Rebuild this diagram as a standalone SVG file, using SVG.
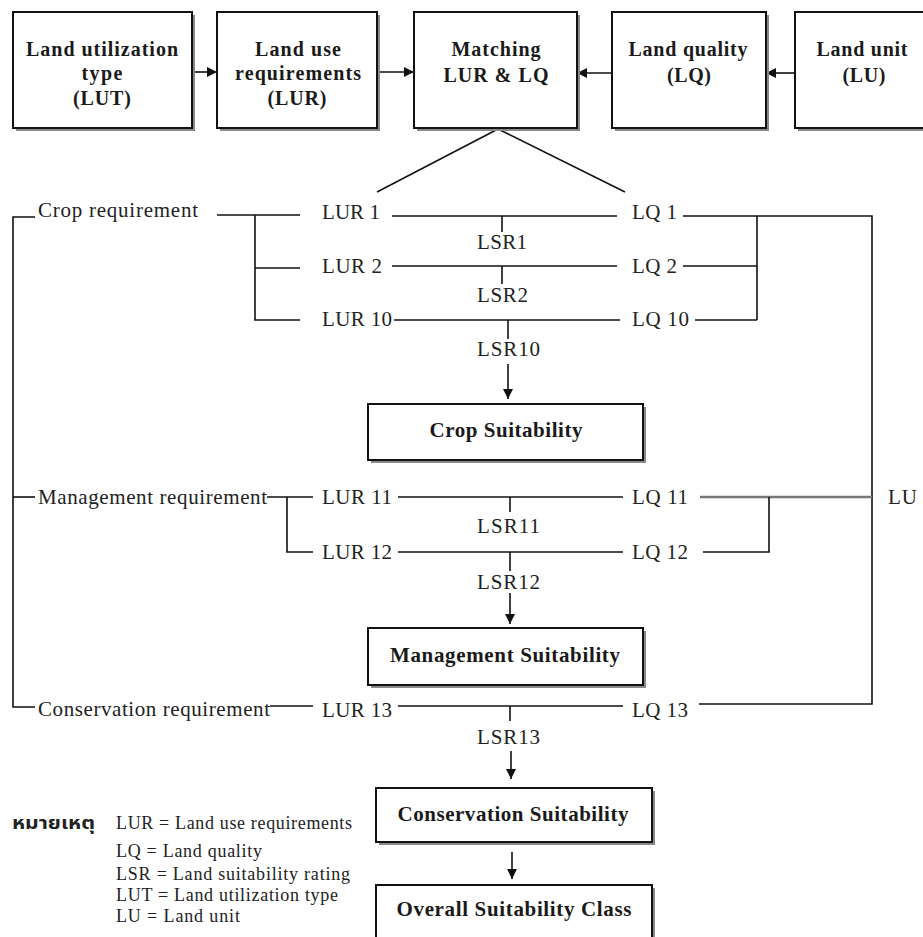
<svg xmlns="http://www.w3.org/2000/svg" width="923" height="937" viewBox="0 0 923 937">
<style>
.bg{fill:#ffffff}
.box{fill:#ffffff;stroke:#111;stroke-width:2}
.shadow{fill:#8a8a8a}
.ln{stroke:#111;stroke-width:1.6;fill:none}
.gl{stroke:#777;stroke-width:2.6;fill:none}
.bt{font-family:"Liberation Serif","Times New Roman",serif;font-weight:bold;font-size:20px;fill:#1a1a1a;text-anchor:middle}
.bt2{font-family:"Liberation Serif","Times New Roman",serif;font-weight:bold;font-size:21px;fill:#1a1a1a;text-anchor:middle}
.rt{font-family:"Liberation Serif","Times New Roman",serif;font-size:21px;fill:#222}
.lg{font-family:"Liberation Serif","Times New Roman",serif;font-size:18px;fill:#222}
.th{font-family:"Liberation Serif","Noto Sans Thai","Noto Serif Thai","DejaVu Sans",sans-serif;font-weight:bold;font-size:18px;fill:#222}
</style>
<defs>
<marker id="ah" viewBox="0 0 10 10" refX="10" refY="5" markerWidth="10" markerHeight="10" markerUnits="userSpaceOnUse" orient="auto">
<path d="M0,0 L10,5 L0,10 z" fill="#111"/>
</marker>
</defs>
<rect class="bg" x="0" y="0" width="923" height="937"/>

<g id="connectors">
<line class="ln" x1="192" y1="72" x2="217" y2="72" marker-end="url(#ah)"/>
<line class="ln" x1="377" y1="72" x2="414" y2="72" marker-end="url(#ah)"/>
<line class="ln" x1="612" y1="73" x2="577" y2="73" marker-end="url(#ah)"/>
<line class="ln" x1="795" y1="73" x2="766" y2="73" marker-end="url(#ah)"/>
<line class="ln" x1="498" y1="129" x2="377" y2="192"/>
<line class="ln" x1="498" y1="129" x2="625" y2="192"/>
<polyline class="ln" points="35,217 13,217 13,707 35,707"/>
<line class="ln" x1="13" y1="497" x2="35" y2="497"/>
<line class="ln" x1="217" y1="215" x2="300" y2="215"/>
<polyline class="ln" points="255,215 255,320 300,320"/>
<line class="ln" x1="255" y1="268" x2="300" y2="268"/>
<line class="ln" x1="392" y1="216" x2="617" y2="216"/>
<line class="ln" x1="392" y1="266" x2="617" y2="266"/>
<line class="ln" x1="394" y1="320" x2="620" y2="320"/>
<line class="ln" x1="502" y1="216" x2="502" y2="232"/>
<line class="ln" x1="502" y1="266" x2="502" y2="284"/>
<line class="ln" x1="508" y1="320" x2="508" y2="339"/>
<polyline class="ln" points="683,216 872,216 872,704 699,704"/>
<line class="ln" x1="757" y1="216" x2="757" y2="320"/>
<line class="ln" x1="683" y1="266" x2="757" y2="266"/>
<line class="ln" x1="695" y1="320" x2="757" y2="320"/>
<line class="ln" x1="508" y1="364" x2="508" y2="399" marker-end="url(#ah)"/>
<line class="ln" x1="267" y1="497" x2="313" y2="497"/>
<polyline class="ln" points="287,497 287,552 313,552"/>
<line class="ln" x1="398" y1="497" x2="623" y2="497"/>
<line class="ln" x1="398" y1="552" x2="623" y2="552"/>
<line class="ln" x1="510" y1="497" x2="510" y2="512"/>
<line class="ln" x1="510" y1="552" x2="510" y2="571"/>
<line class="gl" x1="700" y1="497" x2="872" y2="497"/>
<polyline class="ln" points="769,497 769,552 703,552"/>
<line class="ln" x1="510" y1="593" x2="510" y2="624" marker-end="url(#ah)"/>
<line class="ln" x1="270" y1="706" x2="313" y2="706"/>
<line class="ln" x1="398" y1="706" x2="623" y2="706"/>
<line class="ln" x1="510" y1="706" x2="510" y2="721"/>
<line class="ln" x1="511" y1="751" x2="511" y2="779" marker-end="url(#ah)"/>
<line class="ln" x1="512" y1="852" x2="512" y2="879" marker-end="url(#ah)"/>
</g>

<g id="lut">
<rect class="shadow" x="16" y="15" width="179" height="116"/>
<rect class="box" x="13" y="12" width="179" height="116"/>
<text class="bt" x="102" y="56" textLength="152" lengthAdjust="spacing">Land utilization</text>
<text class="bt" x="102" y="80" textLength="41" lengthAdjust="spacing">type</text>
<text class="bt" x="102" y="105" textLength="58" lengthAdjust="spacing">(LUT)</text>
</g>
<g id="lur">
<rect class="shadow" x="220" y="15" width="160" height="116"/>
<rect class="box" x="217" y="12" width="160" height="116"/>
<text class="bt" x="298" y="56" textLength="86" lengthAdjust="spacing">Land use</text>
<text class="bt" x="298" y="80" textLength="126" lengthAdjust="spacing">requirements</text>
<text class="bt" x="297" y="105" textLength="59" lengthAdjust="spacing">(LUR)</text>
</g>
<g id="matching">
<rect class="shadow" x="417" y="15" width="163" height="116"/>
<rect class="box" x="414" y="12" width="163" height="116"/>
<text class="bt" x="496" y="56" textLength="89" lengthAdjust="spacing">Matching</text>
<text class="bt" x="496" y="82" textLength="105" lengthAdjust="spacing">LUR &amp; LQ</text>
</g>
<g id="lq">
<rect class="shadow" x="615" y="15" width="154" height="116"/>
<rect class="box" x="612" y="12" width="154" height="116"/>
<text class="bt" x="688" y="56" textLength="119" lengthAdjust="spacing">Land quality</text>
<text class="bt" x="689" y="82" textLength="44" lengthAdjust="spacing">(LQ)</text>
</g>
<g id="lu">
<rect class="shadow" x="798" y="15" width="140" height="116"/>
<rect class="box" x="795" y="12" width="140" height="116"/>
<text class="bt" x="862" y="56" textLength="91" lengthAdjust="spacing">Land unit</text>
<text class="bt" x="864" y="82" textLength="43" lengthAdjust="spacing">(LU)</text>
</g>

<g id="labels">
<text class="rt" x="38" y="217" textLength="160" lengthAdjust="spacing">Crop requirement</text>
<text class="rt" x="322" y="219" textLength="58" lengthAdjust="spacing">LUR 1</text>
<text class="rt" x="322" y="273" textLength="60" lengthAdjust="spacing">LUR 2</text>
<text class="rt" x="322" y="326" textLength="70" lengthAdjust="spacing">LUR 10</text>
<text class="rt" x="477" y="249" textLength="50" lengthAdjust="spacing">LSR1</text>
<text class="rt" x="477" y="302" textLength="51" lengthAdjust="spacing">LSR2</text>
<text class="rt" x="477" y="356" textLength="63" lengthAdjust="spacing">LSR10</text>
<text class="rt" x="632" y="219" textLength="45" lengthAdjust="spacing">LQ 1</text>
<text class="rt" x="632" y="273" textLength="45" lengthAdjust="spacing">LQ 2</text>
<text class="rt" x="632" y="326" textLength="57" lengthAdjust="spacing">LQ 10</text>
<text class="rt" x="38" y="504" textLength="229" lengthAdjust="spacing">Management requirement</text>
<text class="rt" x="322" y="504" textLength="70" lengthAdjust="spacing">LUR 11</text>
<text class="rt" x="322" y="559" textLength="70" lengthAdjust="spacing">LUR 12</text>
<text class="rt" x="477" y="533" textLength="63" lengthAdjust="spacing">LSR11</text>
<text class="rt" x="477" y="589" textLength="63" lengthAdjust="spacing">LSR12</text>
<text class="rt" x="632" y="504" textLength="56" lengthAdjust="spacing">LQ 11</text>
<text class="rt" x="632" y="559" textLength="56" lengthAdjust="spacing">LQ 12</text>
<text class="rt" x="888" y="504" textLength="29" lengthAdjust="spacing">LU</text>
<text class="rt" x="38" y="716" textLength="232" lengthAdjust="spacing">Conservation requirement</text>
<text class="rt" x="322" y="717" textLength="70" lengthAdjust="spacing">LUR 13</text>
<text class="rt" x="477" y="744" textLength="63" lengthAdjust="spacing">LSR13</text>
<text class="rt" x="632" y="717" textLength="56" lengthAdjust="spacing">LQ 13</text>
</g>

<g id="crop">
<rect class="shadow" x="371" y="407" width="275" height="56"/>
<rect class="box" x="368" y="404" width="275" height="56"/>
<text class="bt2" x="506" y="437" textLength="153" lengthAdjust="spacing">Crop Suitability</text>
</g>
<g id="management">
<rect class="shadow" x="371" y="631" width="275" height="57"/>
<rect class="box" x="368" y="628" width="275" height="57"/>
<text class="bt2" x="505" y="662" textLength="230" lengthAdjust="spacing">Management Suitability</text>
</g>
<g id="conservation">
<rect class="shadow" x="379" y="791" width="276" height="54"/>
<rect class="box" x="376" y="788" width="276" height="54"/>
<text class="bt2" x="513" y="821" textLength="231" lengthAdjust="spacing">Conservation Suitability</text>
</g>
<g id="overall">
<rect class="shadow" x="379" y="888" width="276" height="60"/>
<rect class="box" x="376" y="885" width="276" height="60"/>
<text class="bt2" x="514" y="916" textLength="235" lengthAdjust="spacing">Overall Suitability Class</text>
</g>

<g id="legend">
<text class="th" x="12" y="829" textLength="83" lengthAdjust="spacingAndGlyphs">หมายเหตุ</text>
<text class="lg" x="116" y="829" textLength="236" lengthAdjust="spacing">LUR = Land use requirements</text>
<text class="lg" x="116" y="857" textLength="146" lengthAdjust="spacing">LQ = Land quality</text>
<text class="lg" x="116" y="880" textLength="234" lengthAdjust="spacing">LSR = Land suitability rating</text>
<text class="lg" x="116" y="901" textLength="222" lengthAdjust="spacing">LUT = Land utilization type</text>
<text class="lg" x="116" y="922" textLength="124" lengthAdjust="spacing">LU = Land unit</text>
</g>
</svg>
